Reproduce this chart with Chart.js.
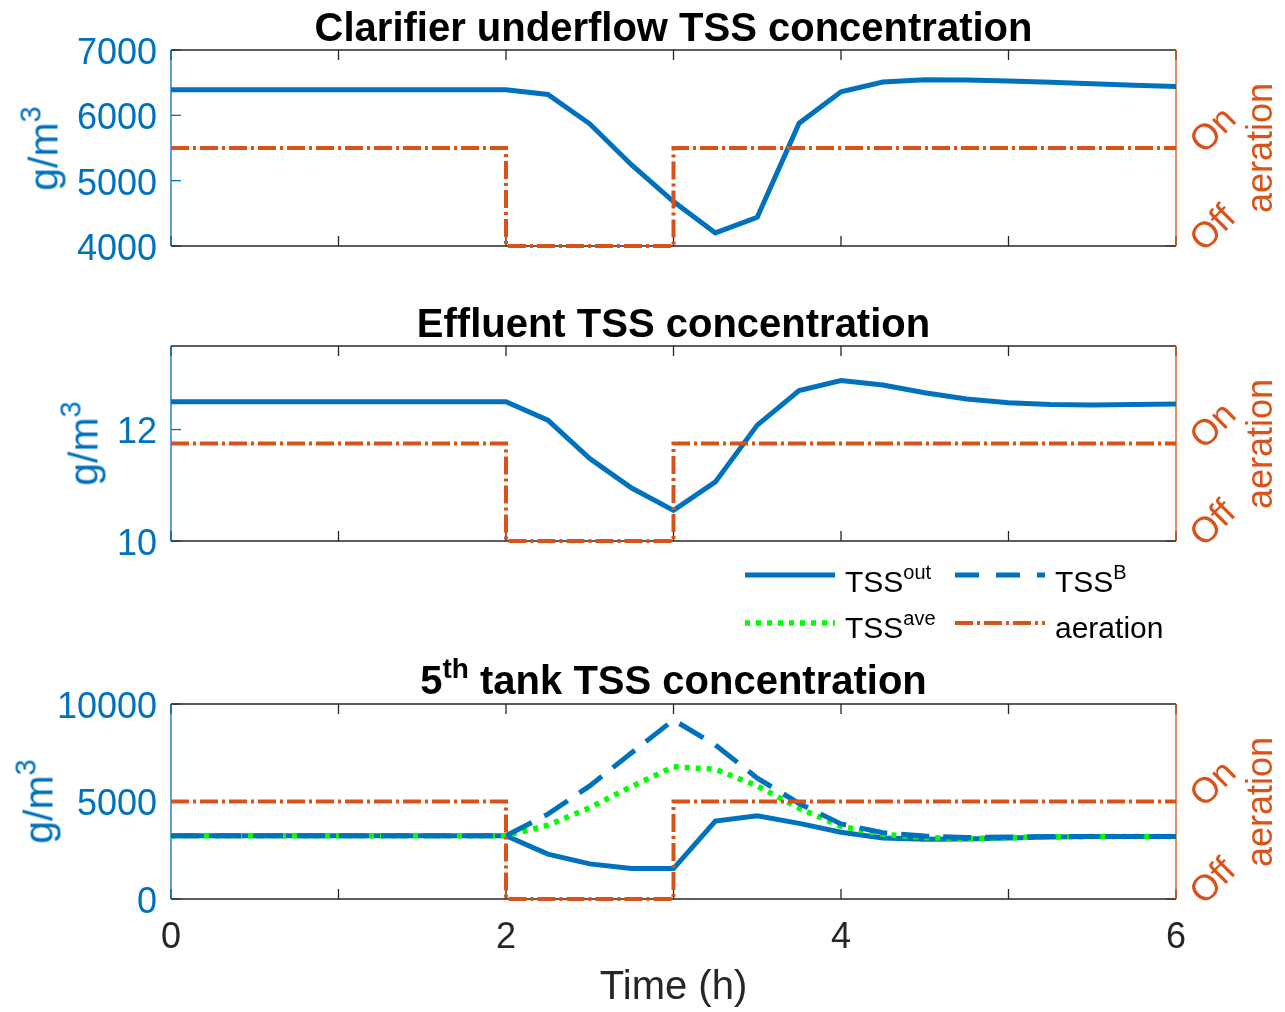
<!DOCTYPE html>
<html>
<head>
<meta charset="utf-8">
<script src="https://cdn.jsdelivr.net/npm/chart.js@4.4.1/dist/chart.umd.min.js"></script>
<style>
  body { margin: 0; background: #fff; }
  #wrap { position: relative; width: 1285px; height: 1012px; overflow: hidden;
          font-family: "Liberation Sans", Arial, sans-serif; }
  canvas { position: absolute; left: 0; }
  .txt { position: absolute; white-space: nowrap; text-align: center; }
  .title { left: 171px; width: 1005px; font-weight: bold; font-size: 40px; line-height: 40px; height: 40px; color: #000; }
  .ylab { width: 160px; font-size: 41px; line-height: 41px; height: 41px; color: #0072BD; transform: rotate(-90deg); }
  .rlab { width: 160px; font-size: 36px; line-height: 36px; height: 36px; color: #D95319; transform: rotate(-90deg); }
  .sup { position: relative; }
  .leg { position: absolute; font-size: 30px; line-height: 30px; height: 30px; color: #000; white-space: nowrap; }
  .legline { position: absolute; }
</style>
</head>
<body>
<div id="wrap">
  <canvas id="c1" width="1285" height="300" style="top:0px"></canvas>
  <canvas id="c2" width="1285" height="300" style="top:300px"></canvas>
  <canvas id="c3" width="1285" height="412" style="top:600px"></canvas>

  <div class="txt title" style="top:7px">Clarifier underflow TSS concentration</div>
  <div class="txt title" style="top:303px">Effluent TSS concentration</div>
  <div class="txt title" style="top:660px">5<span class="sup" style="font-size:28px;top:-16px">th</span> tank TSS concentration</div>

  <div class="txt ylab" style="left:-36px;top:127.5px">g/m<span class="sup" style="font-size:29px;top:-17px">3</span></div>
  <div class="txt ylab" style="left:4px;top:423px">g/m<span class="sup" style="font-size:29px;top:-17px">3</span></div>
  <div class="txt ylab" style="left:-41px;top:781px">g/m<span class="sup" style="font-size:29px;top:-17px">3</span></div>

  <div class="txt rlab" style="left:1179.5px;top:130px">aeration</div>
  <div class="txt rlab" style="left:1179.5px;top:425.5px">aeration</div>
  <div class="txt rlab" style="left:1179.5px;top:783.5px">aeration</div>

  <svg class="legline" style="left:745px;top:570px" width="90" height="10"><line x1="0" y1="5" x2="90" y2="5" stroke="#0072BD" stroke-width="5"/></svg>
  <div class="leg" style="left:845px;top:566.5px">TSS<span class="sup" style="font-size:20px;top:-13px">out</span></div>
  <svg class="legline" style="left:955px;top:570px" width="90" height="10"><line x1="0" y1="5" x2="90" y2="5" stroke="#0072BD" stroke-width="5" stroke-dasharray="24 17"/></svg>
  <div class="leg" style="left:1055px;top:566.5px">TSS<span class="sup" style="font-size:20px;top:-13px">B</span></div>
  <svg class="legline" style="left:745px;top:618px" width="90" height="10"><line x1="0" y1="5" x2="90" y2="5" stroke="#00FF00" stroke-width="5.5" stroke-dasharray="5 6"/></svg>
  <div class="leg" style="left:845px;top:612.5px">TSS<span class="sup" style="font-size:20px;top:-13px">ave</span></div>
  <svg class="legline" style="left:955px;top:618px" width="90" height="10"><line x1="0" y1="5" x2="90" y2="5" stroke="#D95319" stroke-width="4" stroke-dasharray="18 4 3 4"/></svg>
  <div class="leg" style="left:1055px;top:612.5px">aeration</div>
</div>

<script>
// time axis (h), sampled every 15 min
const times = [0, 0.25, 0.5, 0.75, 1, 1.25, 1.5, 1.75, 2, 2.25, 2.5, 2.75, 3,
               3.25, 3.5, 3.75, 4, 4.25, 4.5, 4.75, 5, 5.25, 5.5, 5.75, 6];

// clarifier underflow TSS (g/m3)
const underflowTSS = [6390, 6390, 6390, 6390, 6390, 6390, 6390, 6390, 6390, 6320, 5870, 5240, 4680,
                      4200, 4440, 5880, 6360, 6510, 6545, 6540, 6525, 6505, 6485, 6460, 6440];
// effluent TSS (g/m3)
const effluentTSS = [12.5, 12.5, 12.5, 12.5, 12.5, 12.5, 12.5, 12.5, 12.5, 12.17, 11.48, 10.95, 10.55,
                     11.06, 12.08, 12.70, 12.88, 12.80, 12.66, 12.55, 12.48, 12.45, 12.44, 12.45, 12.46];
// 5th tank TSS (g/m3)
const tankOut = [3250, 3250, 3250, 3250, 3250, 3250, 3250, 3250, 3250, 2300, 1800, 1560, 1560,
                 4000, 4270, 3880, 3420, 3130, 3060, 3080, 3130, 3180, 3200, 3210, 3210];
const tankB = [3250, 3250, 3250, 3250, 3250, 3250, 3250, 3250, 3250, 4350, 5800, 7500, 9180,
               7900, 6200, 4900, 3850, 3400, 3230, 3150, 3180, 3200, 3210, 3210, 3210];
const tankAve = [3250, 3250, 3250, 3250, 3250, 3250, 3250, 3250, 3250, 3780, 4680, 5770, 6780,
                 6650, 5800, 4650, 3730, 3320, 3150, 3100, 3150, 3190, 3200, 3210, 3210];

// aeration on/off schedule
const aerationTimes = [0, 2, 2, 3, 3, 6];
const aerationState = [1, 1, 0, 0, 1, 1];
const aerationLabels = ['Off', 'On'];

// tick values
const timeTicks = [0, 1, 2, 3, 4, 5, 6];
const underflowTicks = [4000, 5000, 6000, 7000];
const effluentTicks = [10, 12];
const tankTicks = [0, 5000, 10000];

const BLUE = '#0072BD';
const ORANGE = '#D95319';
const GREEN = '#00FF00';
const DARK = '#262626';
const TICK = 10;
const FONT = '"Liberation Sans", Arial, sans-serif';

function pts(xs, ys) {
    return xs.map(function (x, i) { return { x: x, y: ys[i] }; });
}

// MATLAB-like box: inner tick marks, coloured y axes
const frameTicks = {
    id: 'frameTicks',
    beforeDatasetsDraw(chart) {
        const ctx = chart.ctx;
        const a = chart.chartArea;
        const sx = chart.scales.x, sy = chart.scales.y, sy2 = chart.scales.y2;
        ctx.save();
        ctx.lineWidth = 1.3;
        function seg(c, x1, y1, x2, y2) {
            ctx.strokeStyle = c;
            ctx.beginPath(); ctx.moveTo(x1, y1); ctx.lineTo(x2, y2); ctx.stroke();
        }
        sx.ticks.forEach(function (t) {
            const px = sx.getPixelForValue(t.value);
            seg(DARK, px, a.bottom, px, a.bottom - TICK);
            seg(DARK, px, a.top, px, a.top + TICK);
        });
        sy.ticks.forEach(function (t) {
            const py = sy.getPixelForValue(t.value);
            seg(BLUE, a.left, py, a.left + TICK, py);
        });
        sy2.ticks.forEach(function (t) {
            const py = sy2.getPixelForValue(t.value);
            seg(ORANGE, a.right, py, a.right - TICK, py);
        });
        seg(DARK, a.left, a.top, a.right, a.top);
        seg(DARK, a.left, a.bottom, a.right, a.bottom);
        seg(BLUE, a.left, a.top, a.left, a.bottom);
        seg(ORANGE, a.right, a.top, a.right, a.bottom);
        ctx.restore();
    }
};

function lineSet(label, data, color, width, dash, order) {
    return {
        label: label, data: data, yAxisID: 'y',
        borderColor: color, borderWidth: width, borderDash: dash,
        pointRadius: 0, tension: 0, fill: false, clip: false, order: order
    };
}

function aerationSet() {
    return {
        label: 'aeration', data: pts(aerationTimes, aerationState), yAxisID: 'y2',
        borderColor: ORANGE, borderWidth: 4, borderDash: [18, 4, 3, 4],
        pointRadius: 0, tension: 0, fill: false, clip: false, order: 0
    };
}

function makePanel(id, datasets, yMin, yMax, yTicks, padTop, xHeight, showX) {
    return new Chart(document.getElementById(id), {
        type: 'line',
        data: { datasets: datasets },
        options: {
            responsive: false,
            animation: false,
            devicePixelRatio: 1,
            events: [],
            layout: { padding: { top: padTop, bottom: 0, left: 0, right: 0 }, autoPadding: false },
            plugins: { legend: { display: false }, title: { display: false }, tooltip: { enabled: false } },
            scales: {
                x: {
                    type: 'linear', min: 0, max: 6,
                    afterBuildTicks: function (s) { s.ticks = timeTicks.map(function (v) { return { value: v }; }); },
                    afterFit: function (s) { s.height = xHeight; },
                    grid: { display: false, drawTicks: false }, border: { display: false },
                    ticks: {
                        display: showX, padding: 17, color: DARK,
                        font: { family: FONT, size: 36 },
                        maxRotation: 0, autoSkip: false,
                        callback: function (v) { return v % 2 === 0 ? String(v) : ''; }
                    },
                    title: {
                        display: showX, text: 'Time (h)', color: DARK,
                        font: { family: FONT, size: 40 }, padding: { top: 0, bottom: 0 }
                    }
                },
                y: {
                    position: 'left', min: yMin, max: yMax,
                    afterBuildTicks: function (s) { s.ticks = yTicks.map(function (v) { return { value: v }; }); },
                    afterFit: function (s) { s.width = 171; },
                    grid: { display: false, drawTicks: false }, border: { display: false },
                    ticks: {
                        padding: 14, color: BLUE, labelOffset: 4,
                        font: { family: FONT, size: 36 },
                        callback: function (v) { return String(v); }
                    }
                },
                y2: {
                    position: 'right', min: 0, max: 2,
                    afterBuildTicks: function (s) { s.ticks = [{ value: 0 }, { value: 1 }]; },
                    afterFit: function (s) { s.width = 109; },
                    grid: { display: false, drawTicks: false }, border: { display: false },
                    ticks: {
                        padding: 21, color: ORANGE, labelOffset: 0,
                        minRotation: 45, maxRotation: 45,
                        font: { family: FONT, size: 36 },
                        callback: function (v) { return aerationLabels[v]; }
                    }
                }
            }
        },
        plugins: [frameTicks]
    });
}

makePanel('c1', [
    lineSet('TSS out', pts(times, underflowTSS), BLUE, 5, [], 3),
    aerationSet()
], 4000, 7000, underflowTicks, 50, 54, false);

makePanel('c2', [
    lineSet('TSS out', pts(times, effluentTSS), BLUE, 5, [], 3),
    aerationSet()
], 10, 13.5, effluentTicks, 46, 59, false);

makePanel('c3', [
    lineSet('TSS out', pts(times, tankOut), BLUE, 5, [], 3),
    lineSet('TSS ave', pts(times, tankAve), GREEN, 5.5, [5, 6], 2),
    lineSet('TSS B', pts(times, tankB), BLUE, 5, [28, 14], 1),
    aerationSet()
], 0, 10000, tankTicks, 104, 113, true);
</script>
</body>
</html>
